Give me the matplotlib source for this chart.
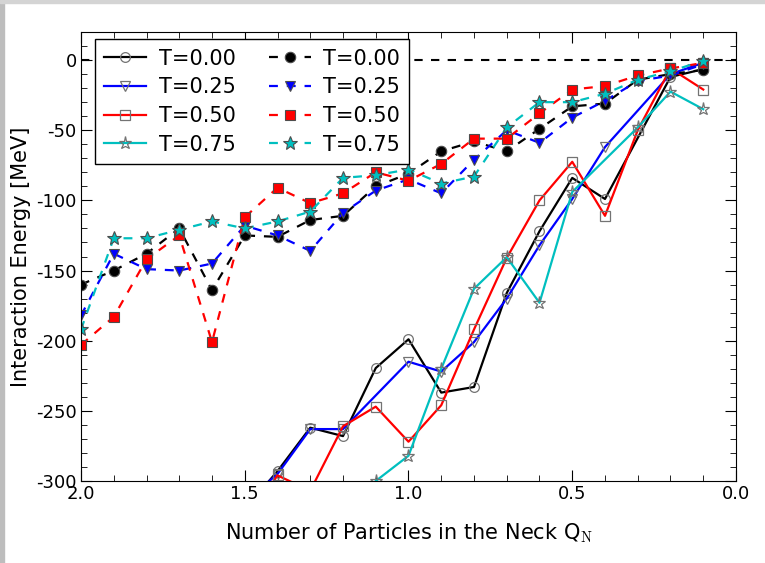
import matplotlib
matplotlib.use("Agg")
import matplotlib.pyplot as plt
from matplotlib.patches import Rectangle
from matplotlib.ticker import MultipleLocator

plt.rcParams['axes.unicode_minus'] = False
plt.rcParams['mathtext.fontset'] = 'cm'

# dashed series: all neck sizes 2.0 ... 0.1
q_all = [2.0, 1.9, 1.8, 1.7, 1.6, 1.5, 1.4, 1.3, 1.2, 1.1,
         1.0, 0.9, 0.8, 0.7, 0.6, 0.5, 0.4, 0.3, 0.2, 0.1]
e00_dash = [-160, -150, -138, -120, -164, -125, -126, -114, -111, -90,
            -81, -65, -58, -65, -49, -33, -31, -14, -10, -7]
e25_dash = [-182, -138, -149, -150, -145, -118, -125, -136, -109, -93,
            -85, -95, -71, -50, -59, -41, -29, -15, -11, -3]
e50_dash = [-203, -183, -142, -125, -201, -112, -91, -102, -95, -80,
            -86, -74, -56, -56, -38, -21, -18.5, -11, -6, -2]
e75_dash = [-192, -127, -127, -121, -115, -120, -115, -108, -84, -82,
            -78, -88, -83, -48, -30, -30, -24, -14, -8, -0.5]

# solid series
q00_sol = [1.5, 1.4, 1.3, 1.2, 1.1, 1.0, 0.9, 0.8, 0.7, 0.6, 0.5, 0.4, 0.2, 0.1]
e00_sol = [-320, -293, -262, -268, -219.5, -199, -237, -233, -166, -122, -84, -99, -12, -6.5]
q25_sol = [1.5, 1.4, 1.3, 1.2, 1.0, 0.9, 0.8, 0.7, 0.6, 0.5, 0.4, 0.2, 0.1]
e25_sol = [-315, -295, -263, -263, -215, -222, -201, -170, -132, -99, -62, -10, -2]
q50_sol = [1.5, 1.4, 1.3, 1.2, 1.1, 1.0, 0.9, 0.8, 0.7, 0.6, 0.5, 0.4, 0.3, 0.2, 0.1]
e50_sol = [-330, -296, -307, -261, -247, -272, -246, -192, -141, -100, -72.5, -111, -50, -6, -21]
q75_sol = [1.2, 1.1, 1.0, 0.9, 0.8, 0.7, 0.6, 0.5, 0.3, 0.2, 0.1]
e75_sol = [-330, -300, -282, -220, -163, -140.5, -173, -94, -48, -22.5, -35]

labels = ["T=0.00", "T=0.25", "T=0.50", "T=0.75"]
colores = ['k', 'b', 'r', (0, 0.75, 0.75)]
marcadores = ['o', 'v', 's', '*']

fig = plt.figure(figsize=(7.65, 5.63), dpi=100)
ax = fig.add_axes([81 / 765, 1 - 481 / 563, (736 - 81) / 765, (481 - 32) / 563])

# gray screenshot edges
fig.patches.append(Rectangle((0, 0), 4 / 765, 1, transform=fig.transFigure,
                             color='#bdbdbd', zorder=-10))
fig.patches.append(Rectangle((0, 1 - 3 / 563), 1, 3 / 563, transform=fig.transFigure,
                             color='#d4d4d4', zorder=-10))

ax.axhline(0, color='k', linestyle='--', lw=1.5, dashes=(4, 4))

solidos = [(q00_sol, e00_sol), (q25_sol, e25_sol), (q50_sol, e50_sol), (q75_sol, e75_sol)]
for i, (xs, ys) in enumerate(solidos):
    ms = 9.5 if marcadores[i] == '*' else 7
    ax.plot(xs, ys, color=colores[i], lw=1.6, marker=marcadores[i], ms=ms,
            mfc='none', mec='0.45', mew=0.9, label=labels[i])

punteados = [e00_dash, e25_dash, e50_dash, e75_dash]
for i, ys in enumerate(punteados):
    ms = 10 if marcadores[i] == '*' else 7.5
    ax.plot(q_all, ys, color=colores[i], lw=1.6, linestyle='--', dashes=(4, 4),
            marker=marcadores[i], ms=ms, mfc=colores[i], mec='0.3', mew=0.8,
            label=labels[i])

ax.set_xlim(2.0, 0.0)
ax.set_ylim(-300, 20)
ax.xaxis.set_major_locator(MultipleLocator(0.5))
ax.xaxis.set_minor_locator(MultipleLocator(0.1))
ax.yaxis.set_major_locator(MultipleLocator(50))
ax.yaxis.set_minor_locator(MultipleLocator(10))
ax.tick_params(which='both', direction='in', top=True, right=True, labelsize=13)
ax.tick_params(which='major', length=8, pad=3)
ax.tick_params(which='minor', length=4)

ax.set_xlabel(r"Number of Particles in the Neck Q$_{\mathrm{N}}$", fontsize=15, labelpad=13)
ax.set_ylabel("Interaction Energy [MeV]", fontsize=15, labelpad=4)

leg = ax.legend(ncol=2, loc='upper left', fontsize=15, frameon=True, fancybox=False,
                framealpha=1, edgecolor='k', handlelength=2.0, columnspacing=1.6,
                handletextpad=0.6, borderaxespad=0.3, labelspacing=0.42, numpoints=1,
                borderpad=0.45, bbox_to_anchor=(0.012, 0.998))
leg.get_frame().set_linewidth(1.0)

fig.savefig("out.png", dpi=100)
